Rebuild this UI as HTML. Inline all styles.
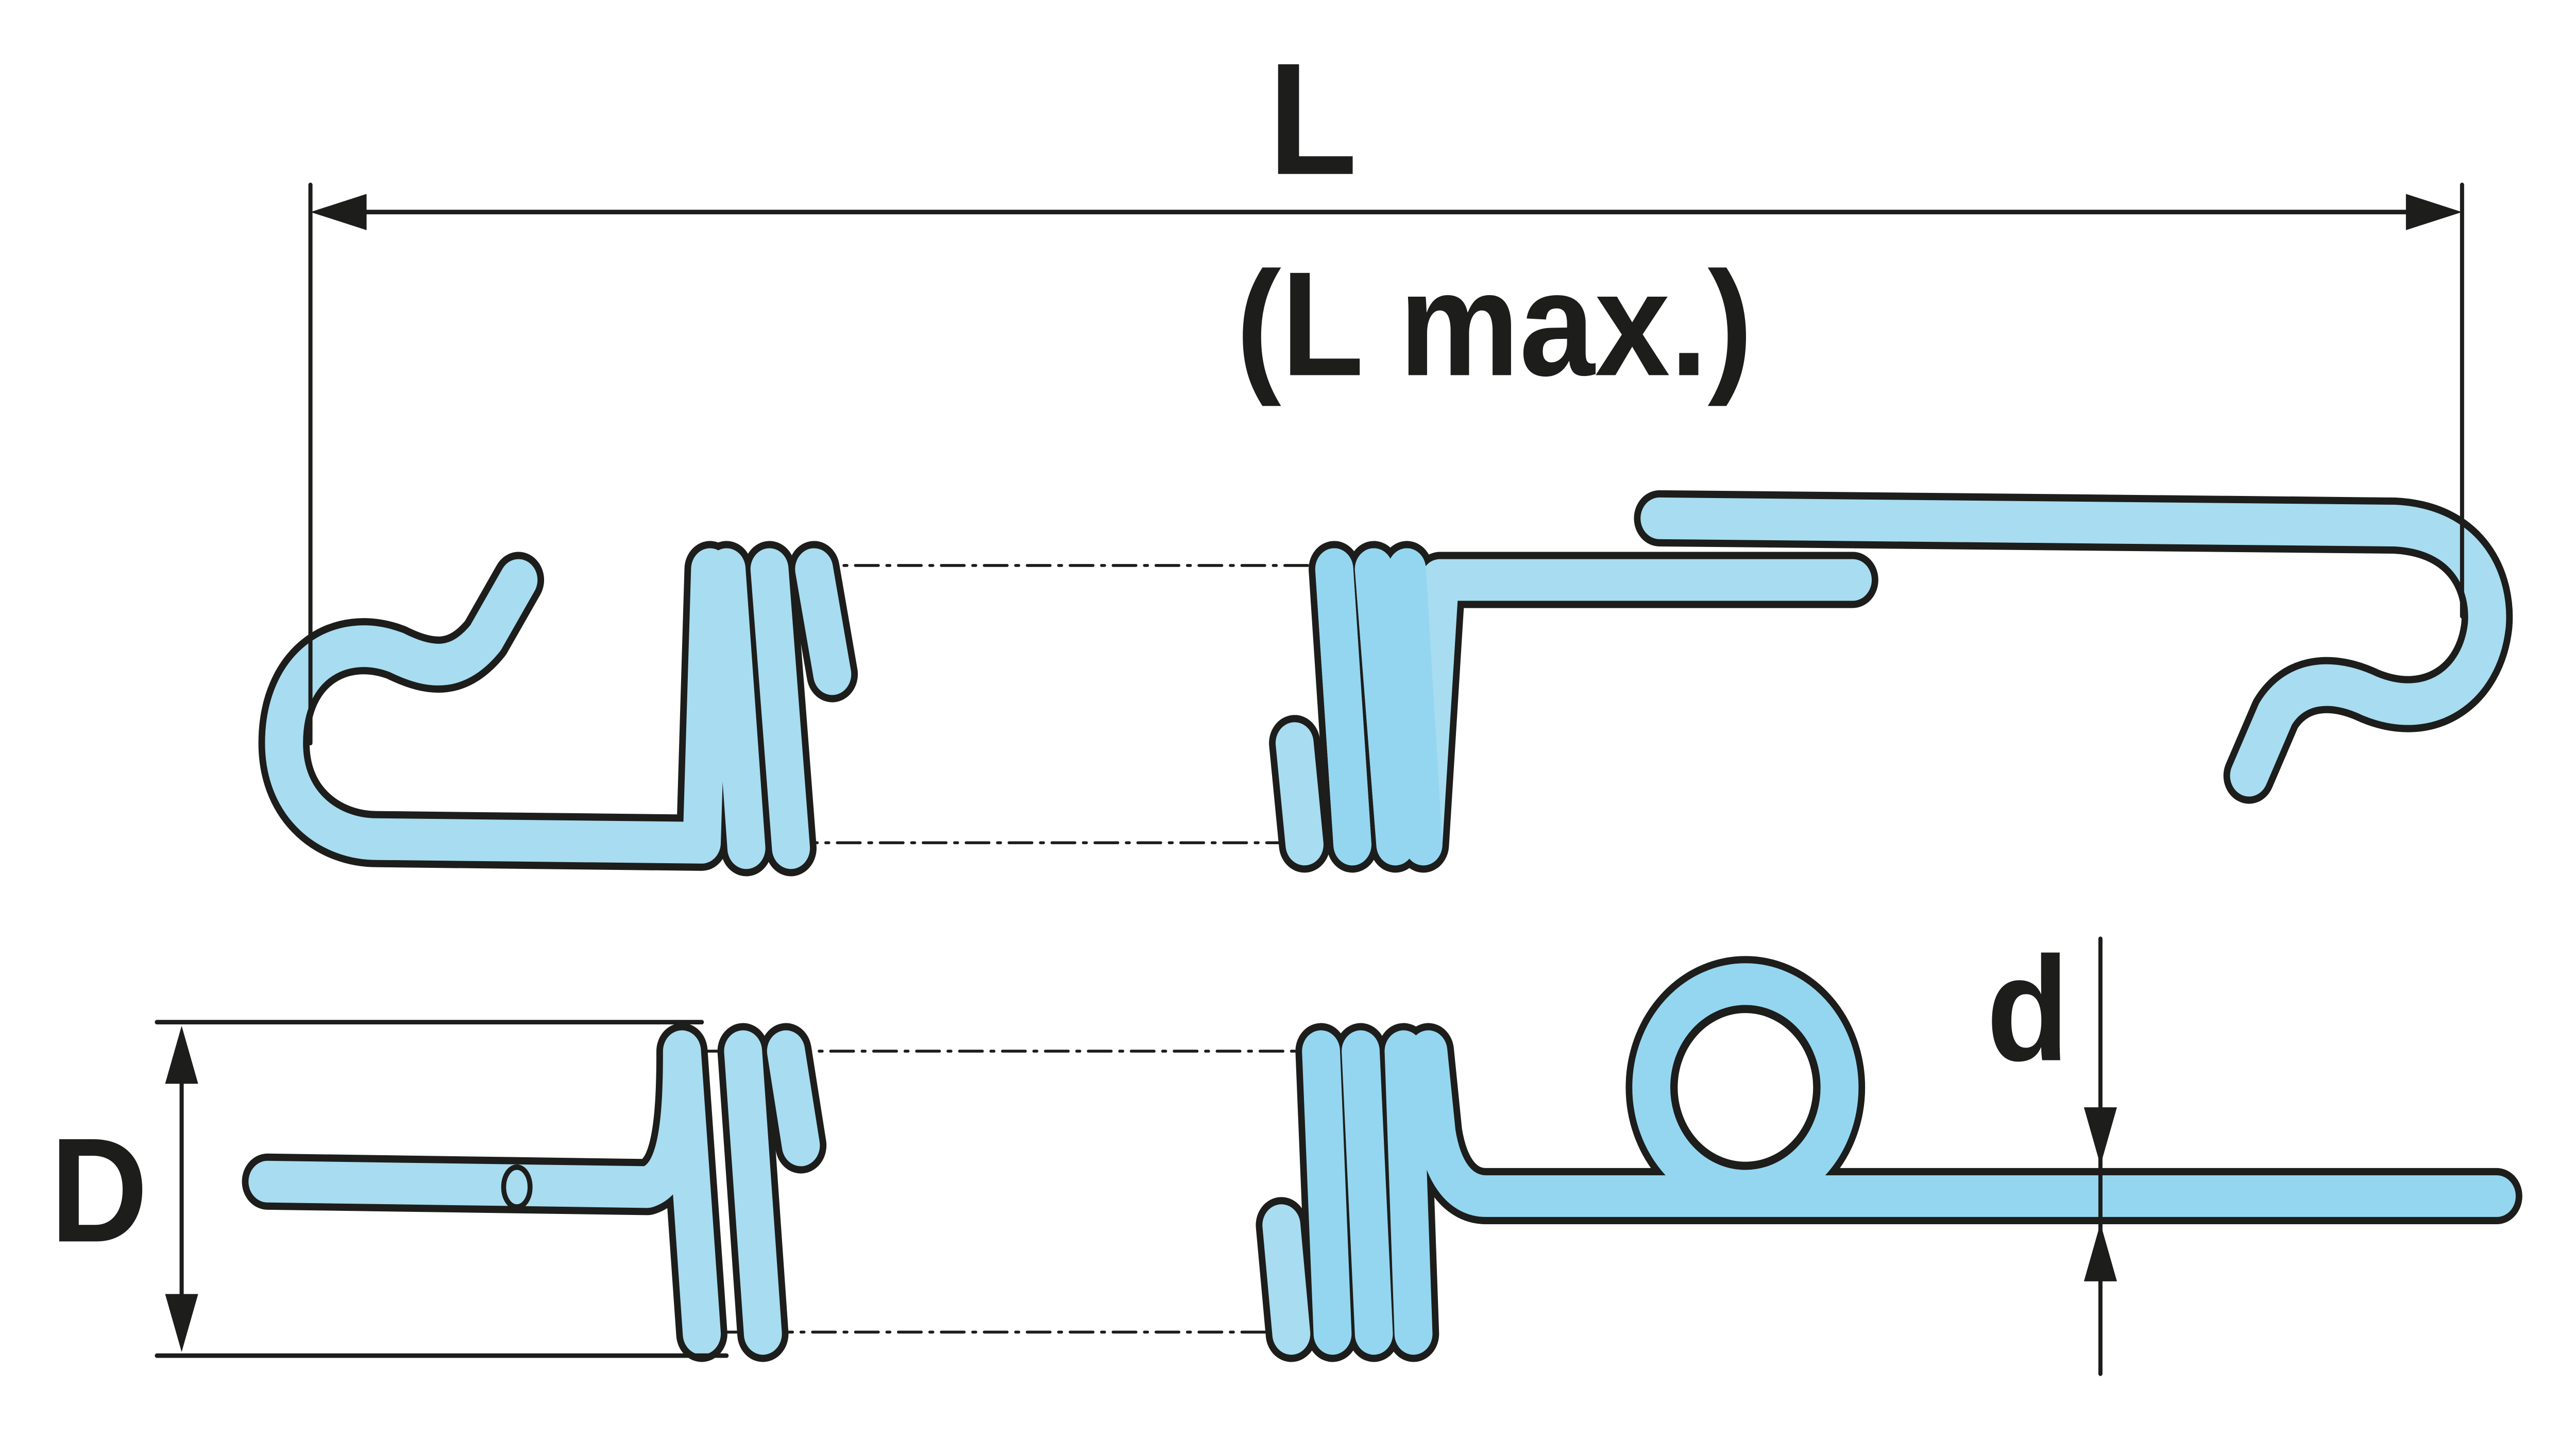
<!DOCTYPE html>
<html><head><meta charset="utf-8"><style>
html,body{margin:0;padding:0;background:#fff;width:5500px;height:2794px;overflow:hidden;}
svg{position:absolute;left:0;top:0;width:100vw;height:100vh;display:block;}
text{font-family:"Liberation Sans",Arial,sans-serif;font-weight:bold;fill:#1d1d1b;}
</style></head><body>
<svg viewBox="0 0 1560 794" preserveAspectRatio="none" xmlns="http://www.w3.org/2000/svg">
<g fill="none" stroke-linecap="round" stroke-linejoin="round">
<g stroke="#1d1d1b" stroke-width="1.6" stroke-dasharray="14,5,2,5">
<line x1="440" y1="312" x2="830" y2="312"/>
<line x1="455" y1="465" x2="850" y2="465"/>
<line x1="425" y1="580" x2="850" y2="580"/>
<line x1="440" y1="735" x2="850" y2="735"/>
</g>

<g stroke="#1d1d1b" stroke-width="31">
<path d="M314,320 L294,352 C278,370 262,370 240,360 C205,348 172,368 172,410 C172,445 200,463 228,463 L425,465 L430,314"/>
<path d="M440,314 L452,468 M466,314 L479,468 M493,314 L504,372"/>
<path d="M784,410 L790,466 M808,314 L819,466 M832,314 L845,466 M852,314 L862,466 L872,320 L1122,320"/>
<path d="M1005,286 L1450,290 C1495,292 1508,322 1506,345 C1502,378 1472,398 1435,384 C1412,374 1390,376 1378,394 L1362,428"/>
</g>
<g stroke="#a8dcf0" stroke-width="23">
<path d="M314,320 L294,352 C278,370 262,370 240,360 C205,348 172,368 172,410 C172,445 200,463 228,463 L425,465 L430,314"/>
<path d="M440,314 L452,468 M466,314 L479,468 M493,314 L504,372"/>
<path d="M784,410 L790,466 M808,314 L819,466 M832,314 L845,466 M852,314 L862,466 L872,320 L1122,320"/>
<path d="M1005,286 L1450,290 C1495,292 1508,322 1506,345 C1502,378 1472,398 1435,384 C1412,374 1390,376 1378,394 L1362,428"/>
</g>
<g stroke="#94d6ef" stroke-width="23">
<path d="M808,314 L819,466 M832,314 L845,466 M852,314 L862,466"/>
</g>

<g stroke="#1d1d1b" stroke-width="31">
<path d="M162,652 L392,655 C410,650 413,620 413,580 L425,736"/>
<path d="M450,580 L462,736 M476,580 L485,632"/>
<path d="M776,676 L782,736 M800,580 L807,736 M824,580 L832,736 M850,580 L856,736"/>
<path d="M865,580 L870,625 C874,648 885,660 900,660 L1050,660 L1512,660"/>
<circle cx="1057" cy="600" r="57"/>
</g>
<g stroke="#a8dcf0" stroke-width="23">
<path d="M162,652 L392,655 C410,650 413,620 413,580 L425,736"/>
<path d="M450,580 L462,736 M476,580 L485,632"/>
<path d="M776,676 L782,736"/>
</g>
<g stroke="#94d6ef" stroke-width="23">
<path d="M800,580 L807,736 M824,580 L832,736 M850,580 L856,736"/>
<path d="M865,580 L870,625 C874,648 885,660 900,660 L1050,660 L1512,660"/>
<circle cx="1057" cy="600" r="57"/>
</g>
<circle cx="1057" cy="600" r="43" fill="#fff" stroke="#1d1d1b" stroke-width="4"/>
<ellipse cx="313" cy="655" rx="8" ry="11" fill="#a8dcf0" stroke="#1d1d1b" stroke-width="3"/>

<g stroke="#1d1d1b" stroke-width="2.5">
<line x1="188" y1="102" x2="188" y2="410"/>
<line x1="1491" y1="102" x2="1491" y2="340"/>
<line x1="215" y1="117" x2="1465" y2="117"/>
<line x1="95" y1="564" x2="425" y2="564"/>
<line x1="95" y1="748" x2="440" y2="748"/>
<line x1="110" y1="590" x2="110" y2="722"/>
<line x1="1272" y1="518" x2="1272" y2="758"/>
</g>
</g>
<g fill="#1d1d1b">
<polygon points="188,117 222,107 222,127"/>
<polygon points="1491,117 1457,107 1457,127"/>
<polygon points="110,566 100,598 120,598"/>
<polygon points="110,746 100,714 120,714"/>
<polygon points="1272,643 1262,611 1282,611"/>
<polygon points="1272,675 1262,707 1282,707"/>
</g>
<text x="795" y="96" font-size="88" text-anchor="middle">L</text>
<text x="905" y="207" font-size="82" text-anchor="middle">(L  max.)</text>
<text x="60" y="685" font-size="82" text-anchor="middle">D</text>
<text x="1228" y="585" font-size="82" text-anchor="middle">d</text>
</svg>
</body></html>
